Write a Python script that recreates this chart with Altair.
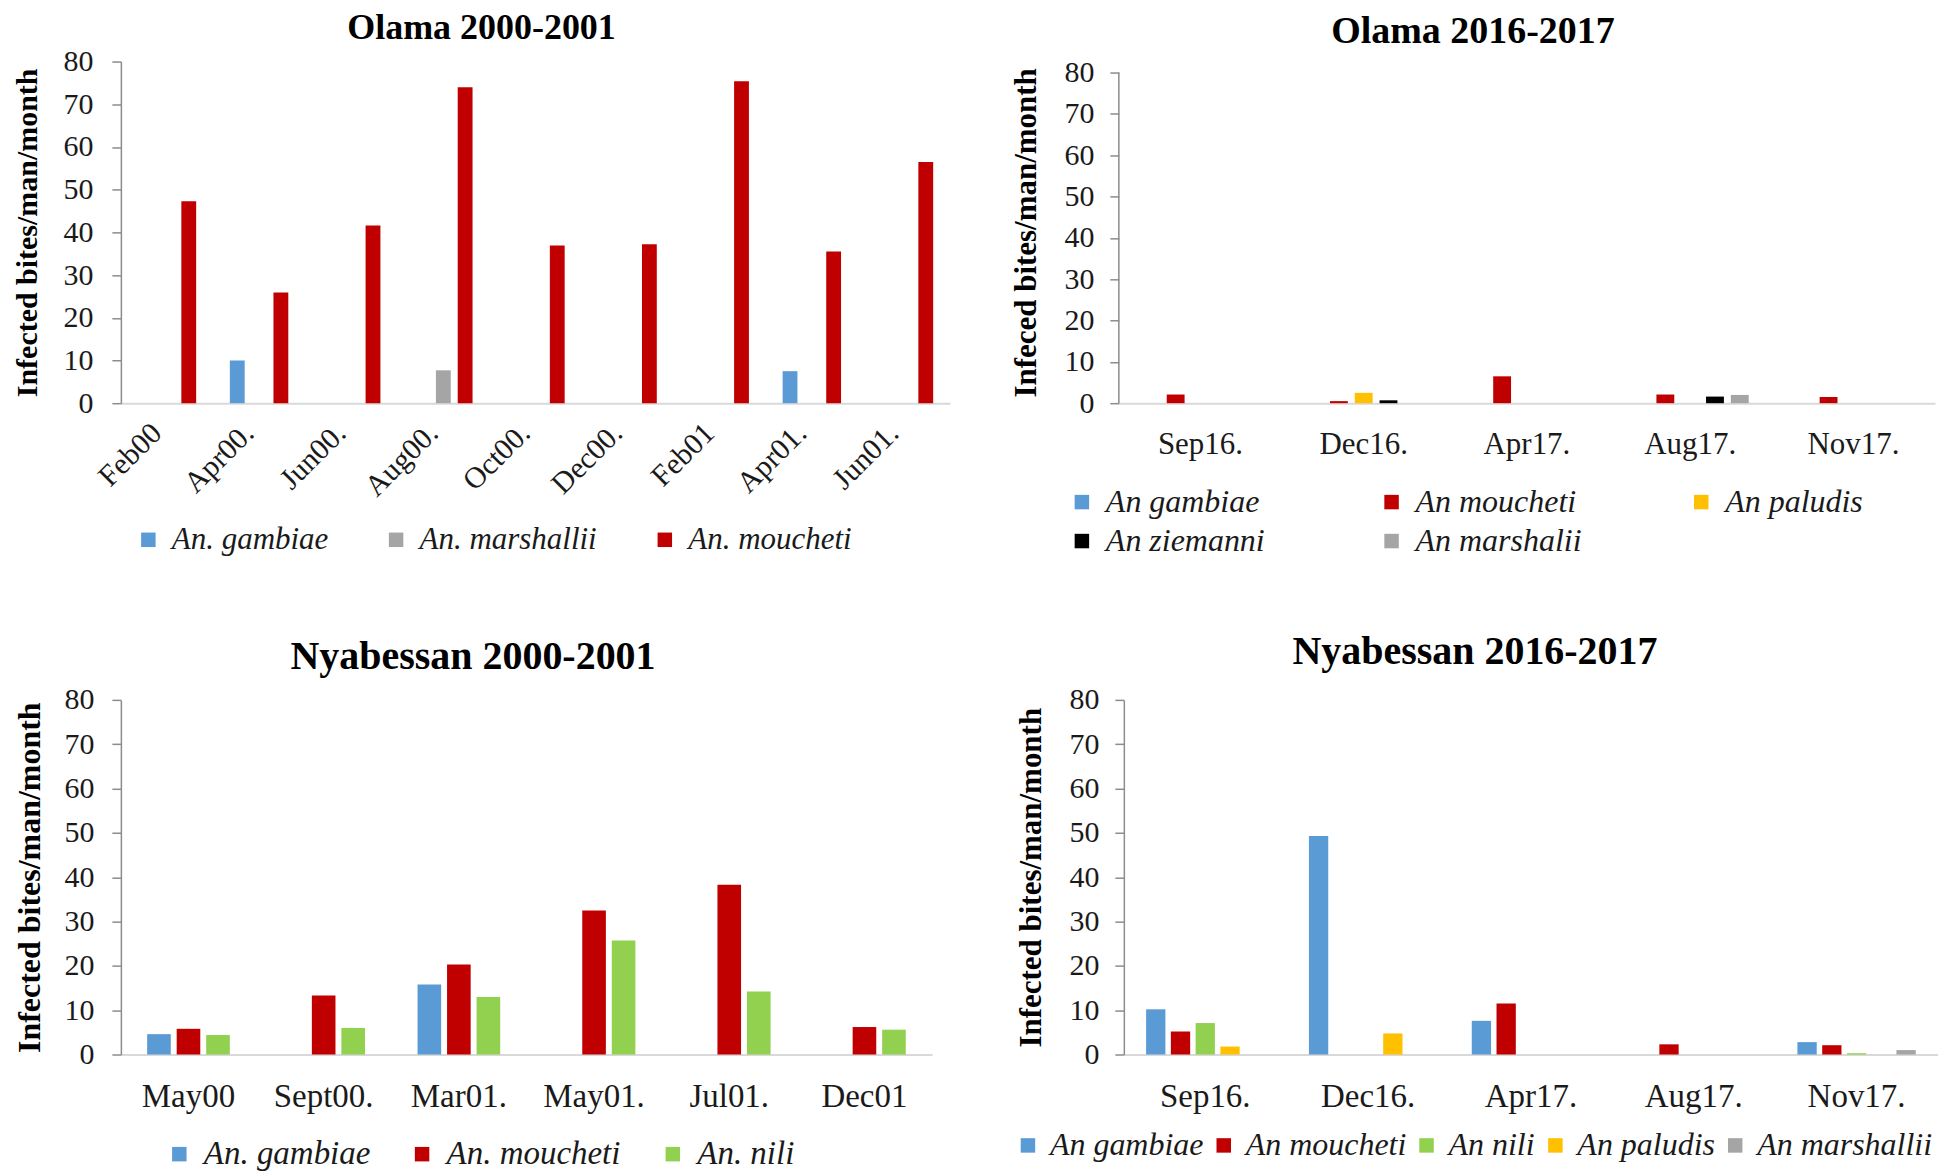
import altair as alt
import pandas as pd

FONT = "Liberation Serif"
C_BLUE = "#5b9bd5"
C_RED = "#c00000"
C_GRAY = "#a5a5a5"
C_GREEN = "#92d050"
C_YELLOW = "#ffc000"
C_BLACK = "#000000"
AXIS_GRAY = "#8c8c8c"

Y_TICKS = [0, 10, 20, 30, 40, 50, 60, 70, 80]

# ---------------- Olama 2000-2001 ----------------
p1_months = ["Feb00", "Apr00.", "Jun00.", "Aug00.", "Oct00.", "Dec00.", "Feb01", "Apr01.", "Jun01."]
p1_species = ["An. gambiae", "An. marshallii", "An. moucheti"]
p1_colors = [C_BLUE, C_GRAY, C_RED]
p1_gambiae = [0, 10.0, 0, 0, 0, 0, 0, 7.5, 0]
p1_marshallii = [0, 0, 0, 7.7, 0, 0, 0, 0, 0]
p1_moucheti = [47.3, 25.9, 41.6, 74.0, 36.9, 37.2, 75.4, 35.5, 56.5]

# ---------------- Olama 2016-2017 ----------------
p2_months = ["Sep16.", "Dec16.", "Apr17.", "Aug17.", "Nov17."]
p2_species = ["An gambiae", "An moucheti", "An paludis", "An ziemanni", "An marshalii"]
p2_colors = [C_BLUE, C_RED, C_YELLOW, C_BLACK, C_GRAY]
p2_gambiae = [0, 0, 0, 0, 0]
p2_moucheti = [2.1, 0.5, 6.5, 2.1, 1.5]
p2_paludis = [0, 2.5, 0, 0, 0]
p2_ziemanni = [0, 0.7, 0, 1.6, 0]
p2_marshalii = [0, 0, 0, 2.0, 0]

# ---------------- Nyabessan 2000-2001 ----------------
p3_months = ["May00", "Sept00.", "Mar01.", "May01.", "Jul01.", "Dec01"]
p3_species = ["An. gambiae", "An. moucheti", "An. nili"]
p3_colors = [C_BLUE, C_RED, C_GREEN]
p3_gambiae = [4.6, 0, 15.8, 0, 0, 0]
p3_moucheti = [5.8, 13.3, 20.3, 32.5, 38.3, 6.2]
p3_nili = [4.4, 6.0, 13.0, 25.7, 14.2, 5.6]

# ---------------- Nyabessan 2016-2017 ----------------
p4_months = ["Sep16.", "Dec16.", "Apr17.", "Aug17.", "Nov17."]
p4_species = ["An gambiae", "An moucheti", "An nili", "An paludis", "An marshallii"]
p4_colors = [C_BLUE, C_RED, C_GREEN, C_YELLOW, C_GRAY]
p4_gambiae = [10.2, 49.3, 7.6, 0, 2.8]
p4_moucheti = [5.2, 0, 11.5, 2.3, 2.1]
p4_nili = [7.1, 0, 0, 0, 0.3]
p4_paludis = [1.8, 4.75, 0, 0, 0]
p4_marshallii = [0, 0, 0, 0, 1.0]


def make_panel(title, months, species, colors, series, w, h, title_size, title_offset,
               x_angle, x_label_size, x_label_pad, x_pad_inner, off_pad_inner,
               legend_x, legend_y, legend_cols, legend_col_pad, legend_label_size,
               legend_grid_align, legend_label_offset, ytitle,
               y_label_pad=19, y_title_pad=23, y_title_size=30, y_max=80,
               x_label_offset=0):
    rows = []
    for sp, vals in zip(species, series):
        for m, v in zip(months, vals):
            if v > 0:
                rows.append({"month": m, "species": sp, "value": v})
    df = pd.DataFrame(rows)

    x_axis_kwargs = dict(
        title=None, ticks=False, domainColor="#d9d9d9", domainWidth=2,
        labelFont=FONT, labelFontSize=x_label_size, labelColor="#1a1a1a",
        labelPadding=x_label_pad, labelAngle=x_angle, labelOffset=x_label_offset,
    )
    if x_angle != 0:
        x_axis_kwargs["labelAlign"] = "right"
        x_axis_kwargs["labelBaseline"] = "middle"

    extended = y_max > 80
    y_axis = alt.Axis(values=Y_TICKS, title=ytitle, grid=False,
                      domain=not extended,
                      domainColor=AXIS_GRAY, domainWidth=1.5,
                      tickColor=AXIS_GRAY, tickSize=9, tickWidth=1.5,
                      labelFont=FONT, labelFontSize=30, labelColor="#1a1a1a",
                      labelPadding=y_label_pad,
                      titleFont=FONT, titleFontSize=y_title_size, titleFontWeight="bold",
                      titleColor="#000000", titlePadding=y_title_pad)
    y_scale = alt.Scale(domain=[0, y_max], nice=False)

    bars = alt.Chart(df).mark_bar().encode(
        x=alt.X("month:N", sort=months,
                scale=alt.Scale(domain=months, paddingInner=x_pad_inner,
                                paddingOuter=x_pad_inner / 2),
                axis=alt.Axis(**x_axis_kwargs)),
        xOffset=alt.XOffset("species:N",
                            scale=alt.Scale(domain=species, paddingInner=off_pad_inner,
                                            paddingOuter=off_pad_inner / 2)),
        y=alt.Y("value:Q", scale=y_scale, axis=y_axis),
        color=alt.Color("species:N",
                        scale=alt.Scale(domain=species, range=colors),
                        legend=alt.Legend(title=None, orient="none",
                                          legendX=legend_x, legendY=legend_y,
                                          direction="horizontal", columns=legend_cols,
                                          columnPadding=legend_col_pad, rowPadding=7,
                                          gridAlign=legend_grid_align,
                                          symbolType="square", symbolSize=210,
                                          symbolStrokeWidth=0, symbolOpacity=1,
                                          labelFont=FONT, labelFontStyle="italic",
                                          labelFontSize=legend_label_size,
                                          labelColor="#1a1a1a",
                                          labelOffset=legend_label_offset,
                                          labelLimit=400)),
    )
    title_params = alt.TitleParams(text=title, font=FONT, fontSize=title_size,
                                   fontWeight="bold", color="#000000",
                                   anchor="middle", frame="bounds", offset=title_offset)
    if extended:
        # axis line drawn only from 0 to 80, as in the original
        axis_df = pd.DataFrame({"value": [0], "value2": [80]})
        axis_line = alt.Chart(axis_df).mark_rule(color=AXIS_GRAY, strokeWidth=1.5).encode(
            x=alt.value(0),
            y=alt.Y("value:Q", scale=y_scale, axis=y_axis),
            y2="value2:Q",
        )
        chart = alt.layer(axis_line, bars).properties(width=w, height=h, title=title_params)
    else:
        chart = bars.properties(width=w, height=h, title=title_params)
    return chart


p1 = make_panel("Olama 2000-2001", p1_months, p1_species, p1_colors,
                [p1_gambiae, p1_marshallii, p1_moucheti],
                w=830, h=342, title_size=36, title_offset=0,
                x_angle=-45, x_label_size=30, x_label_pad=25, x_label_offset=-10,
                x_pad_inner=0.29, off_pad_inner=0.32,
                legend_x=12, legend_y=463, legend_cols=3, legend_col_pad=52,
                legend_label_size=31, legend_grid_align="each", legend_label_offset=8,
                ytitle="Infected bites/man/month", y_title_size=30,
                y_label_pad=19, y_title_pad=20)

p2 = make_panel("Olama 2016-2017", p2_months, p2_species, p2_colors,
                [p2_gambiae, p2_moucheti, p2_paludis, p2_ziemanni, p2_marshalii],
                w=817, h=342, title_size=38, title_offset=7,
                x_angle=0, x_label_size=31, x_label_pad=26,
                x_pad_inner=0.24, off_pad_inner=0.28,
                legend_x=-53, legend_y=425, legend_cols=3, legend_col_pad=103,
                legend_label_size=32, legend_grid_align="all", legend_label_offset=8,
                ytitle="Infeced bites/man/month", y_title_size=31,
                y_label_pad=16, y_title_pad=21,
                y_max=80 * 342 / 331)

p3 = make_panel("Nyabessan 2000-2001", p3_months, p3_species, p3_colors,
                [p3_gambiae, p3_moucheti, p3_nili],
                w=812, h=355, title_size=40, title_offset=8,
                x_angle=0, x_label_size=33, x_label_pad=26,
                x_pad_inner=0.345, off_pad_inner=0.2,
                legend_x=42, legend_y=438, legend_cols=3, legend_col_pad=35,
                legend_label_size=33, legend_grid_align="each", legend_label_offset=8,
                ytitle="Infected bites/man/month", y_label_pad=18, y_title_pad=17,
                y_title_size=32)

p4 = make_panel("Nyabessan 2016-2017", p4_months, p4_species, p4_colors,
                [p4_gambiae, p4_moucheti, p4_nili, p4_paludis, p4_marshallii],
                w=815, h=355, title_size=40, title_offset=13,
                x_angle=0, x_label_size=33, x_label_pad=26,
                x_pad_inner=0.24, off_pad_inner=0.22,
                legend_x=-112, legend_y=430, legend_cols=5, legend_col_pad=4,
                legend_label_size=32, legend_grid_align="each", legend_label_offset=6,
                ytitle="Infected bites/man/month", y_title_size=31,
                y_label_pad=16, y_title_pad=21)

RES = dict(color="independent", x="independent", y="independent", xOffset="independent")

row1 = alt.hconcat(p1, p2, spacing=61).resolve_scale(**RES)
row2 = alt.hconcat(p3, p4, spacing=80).resolve_scale(**RES)

chart = alt.vconcat(row1, row2, spacing=75).resolve_scale(**RES).configure(
    padding={"left": 5, "top": 1, "right": 0, "bottom": 0},
    background="#ffffff",
).configure_view(stroke=None)

chart.save("out.html", embed_options={"renderer": "svg", "actions": False})
